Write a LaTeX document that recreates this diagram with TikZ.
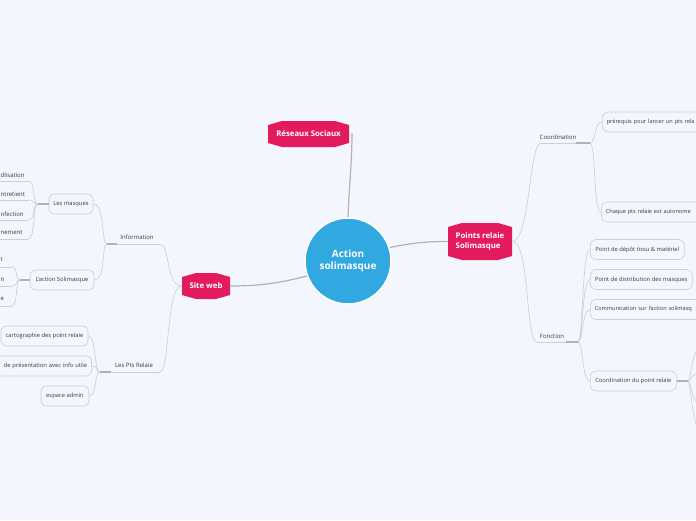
\documentclass[tikz,border=0pt]{standalone}
\usepackage{fontspec}
\setmainfont{Open Sans}
\usetikzlibrary{calc}
\definecolor{bg}{HTML}{F3F6FD}
\definecolor{pk}{HTML}{E31B5E}
\definecolor{bl}{HTML}{31A8E0}
\definecolor{ln}{HTML}{CDCDD3}
\definecolor{ml}{HTML}{B2B2B6}
\definecolor{tx}{HTML}{3A3A3A}
\begin{document}
\begin{tikzpicture}[x=1pt,y=-1pt,
  hexn/.style={rectangle, inner sep=0pt, fill=bg, text=white, align=left,
    font=\bfseries\fontsize{7.8}{9.5}\selectfont,
    path picture={\fill[pk]
      ([yshift=-4pt]path picture bounding box.north west) --
      ([xshift=14pt]path picture bounding box.north west) --
      ([xshift=-14pt]path picture bounding box.north east) --
      ([yshift=-4pt]path picture bounding box.north east) --
      ([yshift=4pt]path picture bounding box.south east) --
      ([xshift=-14pt]path picture bounding box.south east) --
      ([xshift=14pt]path picture bounding box.south west) --
      ([yshift=4pt]path picture bounding box.south west) -- cycle;}},
  leaf/.style={rectangle, rounded corners=6pt, draw=ln, line width=0.6pt, fill=bg,
    minimum height=20pt, inner xsep=4.5pt, inner ysep=0pt, text=tx,
    font=\fontsize{5.8}{7}\selectfont},
  lab/.style={inner sep=0pt, text=tx, font=\fontsize{6}{7}\selectfont},
  thin/.style={draw=ln, line width=0.6pt},
  stub/.style={draw=ml, line width=1.3pt},
  mainc/.style={draw=ml, line width=1.2pt}]
\clip (0,0) rectangle (696,520);
\fill[bg] (0,0) rectangle (696,520);

% main nodes
\node[circle, fill=bl, draw=white, line width=1.5pt, minimum size=86pt, inner sep=0pt,
  text=white, font=\bfseries\fontsize{10}{11.5}\selectfont, align=center] (c) at (348,261) {Action\\solimasque};
\node[hexn, minimum width=81pt, minimum height=26pt] (rs) at (308.5,134) {Réseaux Sociaux};
\node[hexn, minimum width=48pt, minimum height=26pt] (sw) at (206,286) {Site web};
\node[hexn, minimum width=64pt, minimum height=37pt] (pr) at (480,241.5) {Points relaie\\Solimasque};
\coordinate (rsj) at (352,133);

% main connectors
\draw[mainc] (c.north) .. controls +(1,-30) and +(0,30) .. (rsj);
\draw[mainc] (c.200) .. controls +(-30,8) and +(25,0) .. (sw.east);
\draw[mainc] (c.18) .. controls +(25,-5) and +(-20,0) .. (pr.west);

% ---------- left: Site web ----------
\node[lab] (info) at (137,237) {Information};
\coordinate (infoL) at (107,244); \coordinate (infoR) at (160,244);
\node[lab] (pts) at (134,365) {Les Pts Relaie};
\coordinate (ptsL) at (100,372); \coordinate (ptsR) at (160,372);
\draw[thin] (infoL) -- (infoR);
\draw[thin] (ptsL) -- (ptsR);
\draw[stub] (infoL) -- ++(10,0);
\draw[stub] (ptsL) -- ++(11,0);
\draw[thin] (sw.west) .. controls +(-16,0) and +(10,0) .. (infoR);
\draw[thin] (sw.west) .. controls +(-16,0) and +(10,0) .. (ptsR);

\node[leaf, minimum width=44pt] (lm) at (71,204) {Les masques};
\node[leaf, minimum width=64pt] (las) at (62,280) {L'action Solimasque};
\draw[thin] (infoL) .. controls +(-6,0) and +(12,0) .. (lm.east);
\draw[thin] (infoL) .. controls +(-6,0) and +(12,0) .. (las.east);

% Les masques children
\coordinate (lmJ) at (38,204);
\draw[stub] (lmJ) -- (lm.west);
\node[lab, anchor=west] (m1) at (0.5,175) {dlisation};
\node[lab, anchor=west] (m2) at (0.5,194) {ntretient};
\node[lab, anchor=west] (m3) at (0.5,214) {nfection};
\node[lab, anchor=west] (m4) at (0.5,233) {nement};
\coordinate (u1) at (28,181); \coordinate (u2) at (28,200);
\coordinate (u3) at (28,220); \coordinate (u4) at (28,239);
\foreach \u in {u1,u2,u3,u4}{
  \draw[thin] (\u) -- ++(-30,0);
  \draw[thin] (lmJ) .. controls +(-6,0) and +(8,0) .. (\u);
}

% L'action Solimasque children
\coordinate (lasJ) at (20,280);
\draw[stub] (lasJ) -- (las.west);
\node[lab, anchor=west] (a1) at (0.5,260) {t};
\node[lab, anchor=west] (a2) at (0.5,280) {n};
\node[lab, anchor=west] (a3) at (0.5,299) {e};
\coordinate (v1) at (12,267); \coordinate (v2) at (12,286); \coordinate (v3) at (12,306);
\foreach \v in {v1,v2,v3}{
  \draw[thin] (\v) -- ++(-14,0);
  \draw[thin] (lasJ) .. controls +(-5,0) and +(6,0) .. (\v);
}

% Les Pts Relaie children
\node[leaf, minimum width=87pt] (carto) at (44.5,336) {cartographie des point relaie};
\node[leaf, anchor=east, text width=100pt, align=right] (page) at (92,366) {de présentation avec info utile};
\node[leaf, minimum width=48pt] (admin) at (65,396) {espace admin};
\foreach \n in {carto,page,admin}{
  \draw[thin] (ptsL) .. controls +(-6,0) and +(8,0) .. (\n.east);
}

% ---------- right: Points relaie ----------
\node[lab] (coord) at (558,137) {Coordination};
\coordinate (coL) at (541,143); \coordinate (coR) at (590,143);
\node[lab] (fonc) at (552,336) {Fonction};
\coordinate (foL) at (537,342); \coordinate (foR) at (578,342);
\draw[thin] (coL) -- (coR);
\draw[thin] (foL) -- (foR);
\draw[stub] (coR) -- ++(-14,0);
\draw[stub] (foR) -- ++(-12,0);
\draw[thin] (pr.east) .. controls +(18,0) and +(-12,0) .. (coL);
\draw[thin] (pr.east) .. controls +(18,0) and +(-12,0) .. (foL);

\node[leaf, anchor=west, text width=115pt, align=left, font=\fontsize{5.6}{7}\selectfont] (pre) at (602,122) {prérequis pour lancer un pts rela};
\node[leaf, anchor=west, text width=115pt, align=left, font=\fontsize{5.6}{7}\selectfont] (chq) at (601,212) {Chaque pts relaie est autonome};
\draw[thin] (coR) .. controls +(6,0) and +(-8,0) .. (pre.west);
\draw[thin] (coR) .. controls +(6,0) and +(-8,0) .. (chq.west);

\node[leaf, anchor=west, minimum width=94pt] (dep) at (590,249.5) {Point de dépôt tissu \& matériel};
\node[leaf, anchor=west, minimum width=102pt] (dist) at (590,279.5) {Point de distribution des masques};
\node[leaf, anchor=west, text width=115pt, align=left, font=\fontsize{5.6}{7}\selectfont] (comm) at (590,309.5) {Communication sur l'action solimasq};
\node[leaf, anchor=west, minimum width=86pt] (cdpr) at (590,381) {Coordination du point relaie};
\foreach \n in {dep,dist,comm,cdpr}{
  \draw[thin] (foR) .. controls +(5,0) and +(-8,0) .. (\n.west);
}

% Coordination du point relaie children (off the page)
\coordinate (cdJ) at (688,381);
\draw[stub] (cdpr.east) -- (cdJ);
\coordinate (e1) at (702,346); \coordinate (e2) at (702,372);
\coordinate (e3) at (702,405); \coordinate (e4) at (702,432);
\foreach \e in {e1,e2,e3,e4}{
  \draw[thin] (cdJ) .. controls +(3,0) and +(-10,0) .. (\e);
}
\end{tikzpicture}
\end{document}
